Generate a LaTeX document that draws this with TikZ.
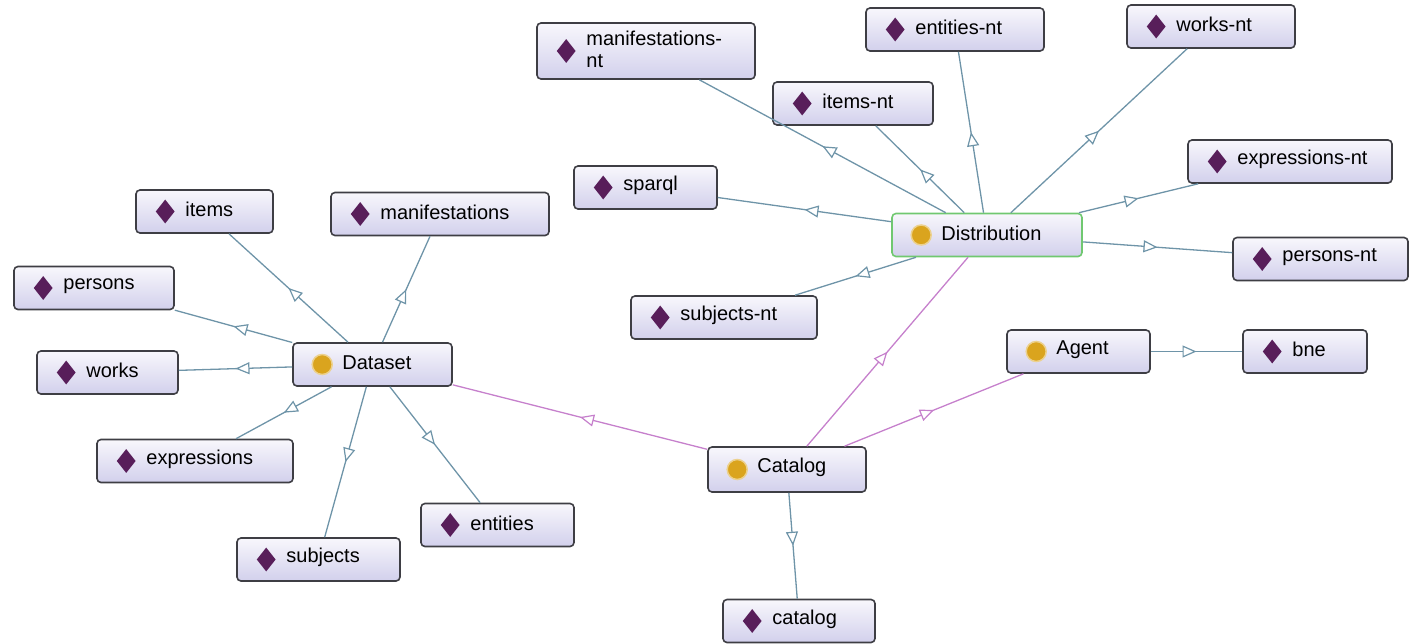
\documentclass[tikz,border=0pt]{standalone}
\usepackage{fontspec}
\setmainfont{Liberation Sans}
\usetikzlibrary{arrows.meta,shapes.geometric,decorations.markings}

\definecolor{boxtop}{RGB}{248,247,252}
\definecolor{boxbot}{RGB}{210,208,236}
\definecolor{boxline}{RGB}{62,62,68}
\definecolor{linkblue}{RGB}{110,148,168}
\definecolor{linkpink}{RGB}{198,128,204}
\definecolor{diampurple}{RGB}{88,30,90}
\definecolor{classgold}{RGB}{218,164,30}
\definecolor{distgreen}{RGB}{112,200,112}

\tikzset{
  box/.style={rectangle, rounded corners=4pt, draw=boxline, line width=1.6pt,
    top color=boxtop, bottom color=boxbot, minimum height=43pt, inner sep=0pt},
  diamicon/.style={diamond, fill=diampurple, minimum width=19pt, minimum height=24pt,
    inner sep=0pt, anchor=center, xshift=30pt},
  classicon/.style={circle, fill=classgold, draw=classgold!50!white, line width=1.5pt,
    minimum size=20pt, inner sep=0pt, anchor=center, xshift=30pt},
  boxtext/.style={anchor=west, xshift=50pt, yshift=2pt, inner sep=0pt,
    font=\fontsize{20}{22}\selectfont, align=left},
  indiv/.style={box, label={[diamicon]west:}, label={[boxtext]west:#1}},
  cls/.style={box, label={[classicon]west:}, label={[boxtext]west:#1}},
  link/.style={draw=linkblue, line width=1.3pt, postaction={decorate},
    decoration={markings, mark=at position 0.5 with
      {\arrow{Triangle[open, length=14pt, width=12pt, fill=white, line width=1.2pt]}}}},
  classlink/.style={link, draw=linkpink}
}

\begin{document}
\begin{tikzpicture}[x=1pt, y=-1pt]
  \useasboundingbox (0,0) rectangle (1410,643);

  % classes
  \node[cls=Distribution, draw=distgreen, minimum width=190pt] (distribution) at (987,235) {};
  \node[cls=Dataset, minimum width=159pt] (dataset) at (372.5,364.5) {};
  \node[cls=Catalog, minimum width=158pt, minimum height=45pt] (catalogcls) at (787,469.5) {};
  \node[cls=Agent, minimum width=143pt] (agent) at (1078.5,351.5) {};

  % individuals of Distribution
  \node[indiv={manifestations-\\nt}, minimum width=218pt, minimum height=56pt] (manifnt) at (646,51) {};
  \node[indiv=entities-nt, minimum width=178pt] (entitiesnt) at (955,29.5) {};
  \node[indiv=works-nt, minimum width=168pt] (worksnt) at (1211,26.5) {};
  \node[indiv=items-nt, minimum width=160pt] (itemsnt) at (853,103.5) {};
  \node[indiv=expressions-nt, minimum width=204pt] (exprnt) at (1290,161.5) {};
  \node[indiv=sparql, minimum width=143pt] (sparql) at (645.5,187.5) {};
  \node[indiv=persons-nt, minimum width=175pt] (personsnt) at (1320.5,259) {};
  \node[indiv=subjects-nt, minimum width=186pt] (subjectsnt) at (724,317.5) {};

  % individuals of Dataset
  \node[indiv=items, minimum width=137pt] (items) at (204.5,211.5) {};
  \node[indiv=manifestations, minimum width=218pt] (manif) at (440,214) {};
  \node[indiv=persons, minimum width=160pt] (persons) at (94,288) {};
  \node[indiv=works, minimum width=141pt] (works) at (107.5,372.5) {};
  \node[indiv=expressions, minimum width=196pt] (expr) at (195,461) {};
  \node[indiv=entities, minimum width=153pt] (entities) at (497.5,525) {};
  \node[indiv=subjects, minimum width=163pt] (subjects) at (318.5,559.5) {};

  % other individuals
  \node[indiv=bne, minimum width=124pt] (bne) at (1305,351.5) {};
  \node[indiv=catalog, minimum width=152pt] (catalog) at (799,621) {};

  % links
  \foreach \target in {manifnt,entitiesnt,worksnt,itemsnt,exprnt,sparql,personsnt,subjectsnt}
    \draw[link] (distribution) -- (\target);
  \foreach \target in {items,manif,persons,works,expr,entities,subjects}
    \draw[link] (dataset) -- (\target);
  \draw[link] (agent) -- (bne);
  \draw[link] (catalogcls) -- (catalog);
  \draw[classlink] (catalogcls) -- (dataset);
  \draw[classlink] (catalogcls) -- (distribution);
  \draw[classlink] (catalogcls) -- (agent);
\end{tikzpicture}
\end{document}
